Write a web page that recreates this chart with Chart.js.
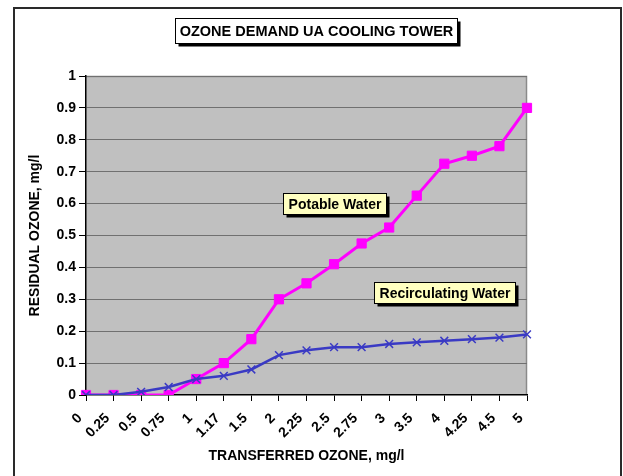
<!DOCTYPE html>
<html>
<head>
<meta charset="utf-8">
<script src="https://cdn.jsdelivr.net/npm/chart.js@4/dist/chart.umd.min.js"></script>
<style>
  html, body { margin: 0; padding: 0; background: #ffffff; }
  #wrap { width: 623px; height: 476px; position: relative; }
</style>
</head>
<body>
<div id="wrap"><canvas id="c" width="623" height="476"></canvas></div>
<script>
const categories = ['0', '0.25', '0.5', '0.75', '1', '1.17', '1.5', '2', '2.25', '2.5', '2.75', '3', '3.5', '4', '4.25', '4.5', '5'];
const potableWater = [0, 0, 0, 0, 0.05, 0.1, 0.175, 0.3, 0.35, 0.41, 0.475, 0.525, 0.625, 0.725, 0.75, 0.78, 0.9];
const recirculatingWater = [0, 0, 0.01, 0.025, 0.05, 0.06, 0.08, 0.125, 0.14, 0.15, 0.15, 0.16, 0.165, 0.17, 0.175, 0.18, 0.19];
const yTicks = [0, 0.1, 0.2, 0.3, 0.4, 0.5, 0.6, 0.7, 0.8, 0.9, 1];
const chartTitle = 'OZONE DEMAND UA COOLING TOWER';
const xTitle = 'TRANSFERRED OZONE, mg/l';
const yTitle = 'RESIDUAL OZONE, mg/l';
// series labels placed in data space: [category index, value]
const seriesLabels = [
  { text: 'Potable Water', at: [9, 0.60] },
  { text: 'Recirculating Water', at: [13, 0.32] }
];

const FONT = "Arial, 'Liberation Sans', sans-serif";

function boxedText(ctx, text, cx, cy, font, fill, h, padX) {
  ctx.save();
  ctx.font = font;
  const w = ctx.measureText(text).width;
  const x = Math.round(cx - w / 2 - padX) + 0.5;
  const y = Math.round(cy - h / 2) + 0.5;
  const bw = Math.round(w + 2 * padX);
  ctx.fillStyle = '#000';
  ctx.fillRect(x + 3, y + 3, bw, h);
  ctx.fillStyle = fill;
  ctx.fillRect(x, y, bw, h);
  ctx.strokeStyle = '#000';
  ctx.lineWidth = 1;
  ctx.strokeRect(x, y, bw, h);
  ctx.fillStyle = '#000';
  ctx.textAlign = 'center';
  ctx.textBaseline = 'middle';
  ctx.fillText(text, x + bw / 2, y + h / 2 + 1);
  ctx.restore();
}

const decor = {
  id: 'decor',
  beforeDraw(chart) {
    const { ctx, chartArea: a } = chart;
    ctx.save();
    ctx.fillStyle = '#ffffff';
    ctx.fillRect(0, 0, chart.width, chart.height);
    ctx.strokeStyle = '#2a2a2a';
    ctx.lineWidth = 2;
    ctx.strokeRect(14, 8, 607, 480);
    ctx.fillStyle = '#C0C0C0';
    ctx.fillRect(a.left, a.top, a.right - a.left, a.bottom - a.top);
    ctx.strokeStyle = '#8a8a8a';
    ctx.lineWidth = 1.5;
    ctx.beginPath();
    ctx.moveTo(a.left, a.top + 0.5);
    ctx.lineTo(a.right - 0.5, a.top + 0.5);
    ctx.lineTo(a.right - 0.5, a.bottom);
    ctx.stroke();
    ctx.restore();
    boxedText(ctx, chartTitle, 316, 30, 'bold 14.5px ' + FONT, '#ffffff', 25, 4);
  },
  afterDatasetsDraw(chart) {
    const { ctx, scales } = chart;
    seriesLabels.forEach(l => {
      const cx = scales.x.getPixelForValue(l.at[0]);
      const cy = scales.y.getPixelForValue(l.at[1]);
      boxedText(ctx, l.text, cx, cy, 'bold 14px ' + FONT, '#FFFFC0', 21, 5);
    });
  }
};

new Chart(document.getElementById('c'), {
  type: 'line',
  data: {
    labels: categories,
    datasets: [
      {
        label: 'Recirculating Water',
        data: recirculatingWater,
        borderColor: '#3a3ac4',
        backgroundColor: '#3a3ac4',
        borderWidth: 2.5,
        pointStyle: 'crossRot',
        pointRadius: 5.5,
        pointBorderWidth: 1.5,
        tension: 0,
        order: 1
      },
      {
        label: 'Potable Water',
        data: potableWater,
        borderColor: '#FF00FF',
        backgroundColor: '#FF00FF',
        borderWidth: 3,
        pointStyle: 'rect',
        pointRadius: 6.5,
        pointBorderWidth: 1,
        tension: 0,
        order: 2
      }
    ]
  },
  plugins: [decor],
  options: {
    responsive: false,
    animation: false,
    devicePixelRatio: 1,
    layout: { padding: { left: 24, right: 96, top: 76, bottom: 8 } },
    plugins: {
      legend: { display: false },
      tooltip: { enabled: false },
      title: { display: false }
    },
    scales: {
      x: {
        type: 'category',
        offset: false,
        afterFit(s) { s.height = 73; },
        border: { display: true, color: '#000', width: 1.5 },
        grid: { drawOnChartArea: false, drawTicks: true, tickLength: 6, color: '#000', tickColor: '#000' },
        ticks: {
          autoSkip: false,
          maxRotation: 45,
          minRotation: 45,
          padding: 9,
          labelOffset: -6,
          color: '#000',
          font: { family: FONT, size: 14, weight: 'bold' }
        },
        title: {
          display: true,
          text: xTitle,
          color: '#000',
          font: { family: FONT, size: 14, weight: 'bold' },
          padding: { top: 0, bottom: 3 }
        }
      },
      y: {
        min: 0,
        max: 1,
        afterFit(s) { s.width = 62; },
        afterBuildTicks(s) { s.ticks = yTicks.map(v => ({ value: v })); },
        border: { display: true, color: '#000', width: 1.5 },
        grid: {
          drawOnChartArea: true,
          drawTicks: true,
          tickLength: 7,
          color: (c) => c.tick && c.tick.value === 0 ? 'rgba(0,0,0,0)' : '#707070',
          tickColor: '#000',
          lineWidth: 1
        },
        ticks: {
          padding: 3,
          color: '#000',
          font: { family: FONT, size: 14, weight: 'bold' },
          callback: (v) => String(v)
        },
        title: {
          display: true,
          text: yTitle,
          color: '#000',
          font: { family: FONT, size: 14, weight: 'bold' },
          padding: { top: 3, bottom: 0 }
        }
      }
    }
  }
});
</script>
</body>
</html>
